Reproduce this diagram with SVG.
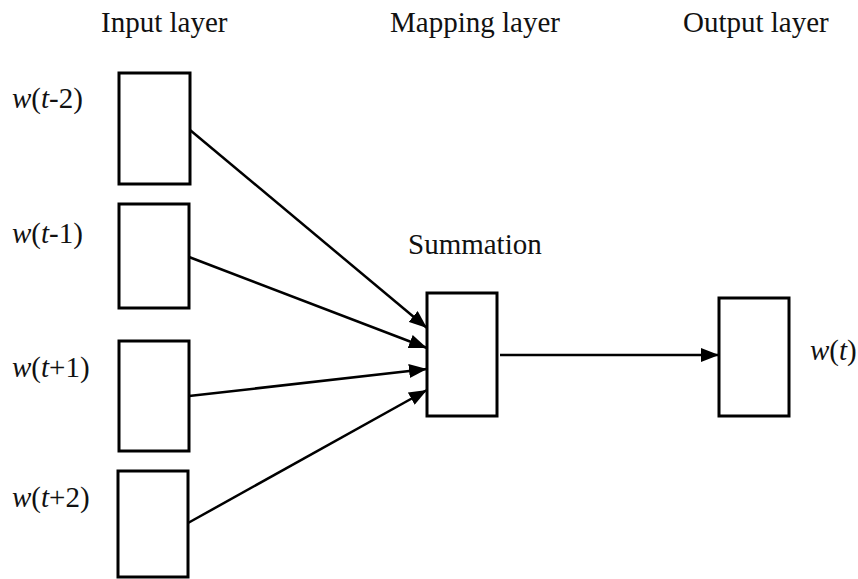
<svg xmlns="http://www.w3.org/2000/svg" width="858" height="579" viewBox="0 0 858 579">
<defs>
<style>
.box{fill:#fff;stroke:#000;stroke-width:3}
.t{font-family:"Liberation Serif","Times New Roman",serif;font-size:29px;fill:#111}
.i{font-style:italic}
.c{stroke:#000;stroke-width:2.5;fill:none}
</style>
<marker id="ah" markerWidth="18" markerHeight="14" refX="18" refY="7" orient="auto" markerUnits="userSpaceOnUse">
<path d="M0,0 L18,7 L0,14 Z" fill="#000"/>
</marker>
</defs>
<rect width="858" height="579" fill="#fff"/>
<g id="headers">
<text class="t" x="101" y="32">Input layer</text>
<text class="t" x="390" y="32">Mapping layer</text>
<text class="t" x="683" y="32">Output layer</text>
</g>
<g id="in1"><rect class="box" x="119" y="73" width="71" height="111"/><text class="t" x="12" y="108"><tspan class="i">w</tspan>(<tspan class="i">t</tspan>-2)</text></g>
<g id="in2"><rect class="box" x="119" y="204" width="70" height="104"/><text class="t" x="12" y="243"><tspan class="i">w</tspan>(<tspan class="i">t</tspan>-1)</text></g>
<g id="in3"><rect class="box" x="119" y="341" width="70" height="110"/><text class="t" x="12" y="377"><tspan class="i">w</tspan>(<tspan class="i">t</tspan>+1)</text></g>
<g id="in4"><rect class="box" x="118" y="471" width="70" height="106"/><text class="t" x="12" y="507"><tspan class="i">w</tspan>(<tspan class="i">t</tspan>+2)</text></g>
<g id="sum"><rect class="box" x="427" y="293" width="70" height="123"/><text class="t" x="408" y="254">Summation</text></g>
<g id="out"><rect class="box" x="719" y="298" width="70" height="118"/><text class="t" x="810" y="360"><tspan class="i">w</tspan>(<tspan class="i">t</tspan>)</text></g>
<g id="connectors">
<line class="c" x1="190" y1="130" x2="427" y2="328" marker-end="url(#ah)"/>
<line class="c" x1="189" y1="257" x2="427" y2="348" marker-end="url(#ah)"/>
<line class="c" x1="189" y1="396" x2="427" y2="369" marker-end="url(#ah)"/>
<line class="c" x1="188" y1="523" x2="427" y2="390" marker-end="url(#ah)"/>
<line class="c" x1="500" y1="355" x2="719" y2="355" marker-end="url(#ah)"/>
</g>
</svg>
